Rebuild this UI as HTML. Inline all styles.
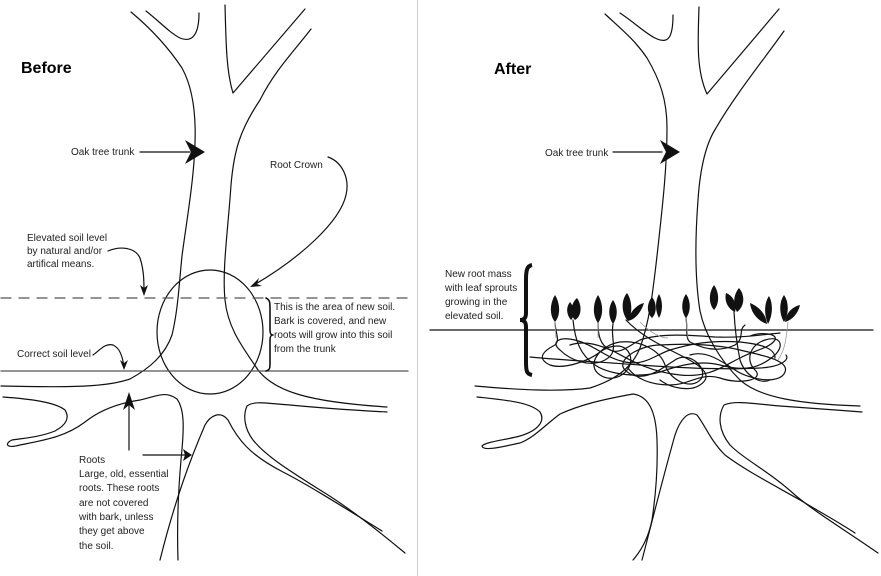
<!DOCTYPE html>
<html><head><meta charset="utf-8"><style>
html,body{margin:0;padding:0;background:#fff;}
svg{display:block;}
text{font-family:"Liberation Sans",sans-serif;fill:#222;}
</style></head><body>
<svg width="881" height="576" viewBox="0 0 881 576" xmlns="http://www.w3.org/2000/svg">
<rect width="881" height="576" fill="#fff"/>
<line x1="417.5" y1="0" x2="417.5" y2="576" stroke="#ccc" stroke-width="1"/>
<g fill="none" stroke="#111" stroke-width="1.2" stroke-linecap="round" stroke-linejoin="round">
<path d="M131,12 C155,32 170,50 182,68 C193,88 196,115 195,143 C194,180 186,225 182,256 C179,285 178,310 172,335 C165,355 150,368 130,379 C110,386 80,388 1,386"/>
<path d="M146,11 C160,22 170,33 180,38 C192,43 199,35 199,13"/>
<path d="M225,5 C226,40 226,70 233,93 L305,9"/>
<path d="M311,29 C295,50 275,70 260,100 C240,130 234,150 231,185 C228,230 222,270 225,300 C228,330 245,350 258,370 C275,392 310,402 387,407"/>
<path d="M3,397 C30,399 55,402 65,410 C70,418 66,425 55,431 C40,437 25,438 12,440 C5,443 5,449 20,445 C45,440 65,437 85,422 C100,410 120,403 140,400 C155,397 165,390 177,399 C185,410 184,430 181,460 C178,494 177,530 178,560"/>
<path d="M160,560 C175,500 190,460 205,425 C210,416 220,410 228,420 C238,440 250,455 283,472 C310,486 340,505 382,531"/>
<path d="M387,412 C350,410 320,408 290,405 C270,404 255,400 247,406 C243,415 244,428 253,440 C265,455 285,468 320,490 C345,505 375,528 405,553"/>
<ellipse cx="210" cy="332" rx="53" ry="62"/>
<line x1="1" y1="298" x2="408" y2="298" stroke="#555" stroke-width="1.3" stroke-dasharray="10,8"/>
<line x1="1" y1="371" x2="408" y2="371" stroke="#555" stroke-width="1.3"/>
<path d="M266,298 C270,300 270,302 270,310 L270,330 C270,334 271,335 273,335 C271,335 270,336 270,340 L270,362 C270,368 270,370 266,371" stroke-width="1.6"/>
<line x1="140" y1="152" x2="190" y2="152"/>
<path d="M328,157 C342,162 350,178 346,195 C340,222 300,258 254,285"/>
<path d="M108,251 C120,246 135,247 140,258 C144,270 144,282 144,292"/>
<path d="M93,355 C100,350 105,343 113,345 C120,348 123,358 124,368"/>
<line x1="129" y1="450" x2="129" y2="400"/>
<line x1="143" y1="455" x2="185" y2="455"/>
<path d="M605,14 C620,28 635,40 647,58 C660,80 667,100 667,128 C667,170 662,210 657,256 C653,290 650,320 640,348 C632,368 615,380 590,388 C560,392 520,390 475,386"/>
<path d="M620,13 C635,23 645,33 655,38 C667,44 673,40 673,15"/>
<path d="M699,7 C698,40 696,70 707,94 L779,9"/>
<path d="M784,31 C765,58 735,95 716,128 C705,145 700,170 698,200 C695,240 695,280 700,311 C705,335 720,360 740,380 C760,398 800,404 860,406"/>
<path d="M477,397 C505,400 530,402 540,412 C545,420 540,430 520,436 C505,440 485,442 482,446 C483,452 505,446 520,443 C535,437 545,425 560,414 C580,405 600,400 633,394 C648,396 656,410 657,440 C658,470 655,500 652,520 C648,540 640,552 633,560"/>
<path d="M642,560 C655,510 665,470 675,435 C680,420 688,410 697,415 C705,425 710,440 725,455 C745,470 770,483 800,500 C820,512 840,523 855,533"/>
<path d="M862,412 C835,410 810,408 780,406 C755,404 735,400 724,405 C718,415 718,430 730,445 C745,460 770,472 795,495 C815,512 845,530 878,553"/>
<line x1="430" y1="330" x2="873" y2="330" stroke-width="1.3"/>
<line x1="613" y1="152" x2="662" y2="152"/>
<path d="M555,323 C556,335 560,340 555,345 C545,350 535,358 550,365 C565,370 590,360 600,352 C610,345 625,342 630,355 C635,370 615,385 600,375 C585,365 600,345 620,342 C640,340 660,350 665,365 C670,380 690,390 700,380 C710,370 690,350 675,360 C660,370 640,385 625,370 C615,360 640,345 660,345 C690,343 720,345 740,350 C760,355 790,360 785,372 C780,385 750,380 735,370 C720,360 705,350 690,355"/>
<path d="M573,320 C575,340 580,355 595,365 C610,375 640,378 660,372 C680,365 700,360 720,365 C745,372 760,368 775,355 C785,345 780,335 765,340 C750,345 745,360 755,370 C765,380 740,385 720,378 C700,372 690,385 670,385 C650,385 635,378 628,368"/>
<path d="M613,324 C610,340 620,352 605,360 C590,368 570,360 560,350 C550,342 560,336 575,340 C595,345 605,358 625,362 C645,366 655,355 670,350 C690,344 710,340 740,342 C760,344 775,348 775,358"/>
<path d="M530,357 C560,360 600,362 640,365 C680,368 720,370 760,368 C780,367 790,360 786,355"/>
<path d="M570,345 C585,340 600,345 615,352 C630,360 650,372 680,375 C710,378 725,365 740,358 C755,350 770,348 775,340 C778,333 760,332 750,336"/>
<path d="M686,318 C688,330 685,338 690,342 C705,350 720,352 735,345 C745,338 738,330 745,325"/>
<path d="M598,323 C598,335 600,345 610,350 C620,355 630,345 640,340 C660,333 690,335 715,337 C740,338 760,335 780,333"/>
<path d="M734,312 C735,330 737,345 740,360 C745,375 760,385 770,380"/>
<path d="M626,320 C640,335 660,345 680,355 C700,365 715,375 700,385 C690,392 670,388 660,380"/>
</g>
<g fill="none" stroke="#999" stroke-width="0.8">
<path d="M555,323 L556,338"/><path d="M598,323 L598,338"/><path d="M686,318 L688,338"/><path d="M788,322 C786,340 785,350 778,360"/><path d="M640,322 C650,332 660,338 668,338"/>
</g>
<g fill="#111">
<path d="M205,152 L185,140 L191,152 L185,164 Z"/>
<path d="M680,152 L660,140 L666,152 L660,164 Z"/>
<path d="M192,455 L183,449 L185,455 L183,461 Z"/>
<path d="M129,392 L123,410 L129,405 L135,410 Z"/>
<path d="M250,287 L259,278 L257,284 L262,286 Z"/>
<path d="M144,296 L140,285 L144,288 L148,285 Z"/>
<path d="M124,370 L120,360 L124,363 L128,360 Z"/>
<path d="M555,295 C560,303 561,315 555,322 C549,315 550,303 555,295 Z"/>
<path d="M577,298 C582,305 582,316 575,320 C569,314 571,303 577,298 Z"/>
<path d="M570,302 C575,308 575,316 571,320 C566,314 566,307 570,302 Z"/>
<path d="M598,295 C603,303 604,315 598,323 C592,315 593,303 598,295 Z"/>
<path d="M613,300 C618,307 618,317 613,324 C608,317 608,307 613,300 Z"/>
<path d="M627,293 C632,300 633,313 628,321 C621,313 621,300 627,293 Z"/>
<path d="M644,303 C641,312 636,319 628,321 C630,312 636,305 644,303 Z"/>
<path d="M652,297 C657,303 657,313 652,318 C646,312 647,303 652,297 Z"/>
<path d="M659,294 C663,301 663,311 659,318 C655,311 655,301 659,294 Z"/>
<path d="M686,294 C691,301 691,312 686,318 C681,312 681,301 686,294 Z"/>
<path d="M714,285 C719,292 720,303 714,310 C708,303 709,292 714,285 Z"/>
<path d="M726,293 C734,296 737,305 735,312 C728,309 724,301 726,293 Z"/>
<path d="M739,288 C745,295 745,306 737,312 C733,305 733,295 739,288 Z"/>
<path d="M750,303 C760,307 766,315 767,324 C758,321 751,313 750,303 Z"/>
<path d="M769,296 C773,303 773,315 768,324 C764,315 764,303 769,296 Z"/>
<path d="M784,295 C789,302 789,314 784,322 C779,314 779,302 784,295 Z"/>
<path d="M800,305 C798,314 792,320 785,322 C786,313 792,307 800,305 Z"/>
</g>
<path d="M532,265 C527,266 526,270 526,280 L526,313 C526,318 524,320 520,320 C524,320 526,322 526,327 L526,362 C526,372 527,374 532,375" fill="none" stroke="#111" stroke-width="4"/>
<text x="21" y="73" font-size="16" font-weight="bold" style="fill:#000">Before</text>
<text x="494" y="74" font-size="16" font-weight="bold" style="fill:#000">After</text>
<g font-size="10">
<text x="71" y="155">Oak tree trunk</text>
<text x="545" y="156">Oak tree trunk</text>
<text x="270" y="168">Root Crown</text>
<text x="27" y="241">Elevated soil level</text>
<text x="27" y="254">by natural and/or</text>
<text x="27" y="267">artifical means.</text>
<text x="17" y="357">Correct soil level</text>
<text x="274" y="310">This is the area of new soil.</text>
<text x="274" y="324">Bark is covered, and new</text>
<text x="274" y="338">roots will grow into this soil</text>
<text x="274" y="352">from the trunk</text>
<text x="79" y="463">Roots</text>
<text x="79" y="477">Large, old, essential</text>
<text x="79" y="491">roots. These roots</text>
<text x="79" y="506">are not covered</text>
<text x="79" y="520">with bark, unless</text>
<text x="79" y="534">they get above</text>
<text x="79" y="549">the soil.</text>
<text x="445" y="277">New root mass</text>
<text x="445" y="291">with leaf sprouts</text>
<text x="445" y="305">growing in the</text>
<text x="445" y="319">elevated soil.</text>
</g>
</svg>
</body></html>
